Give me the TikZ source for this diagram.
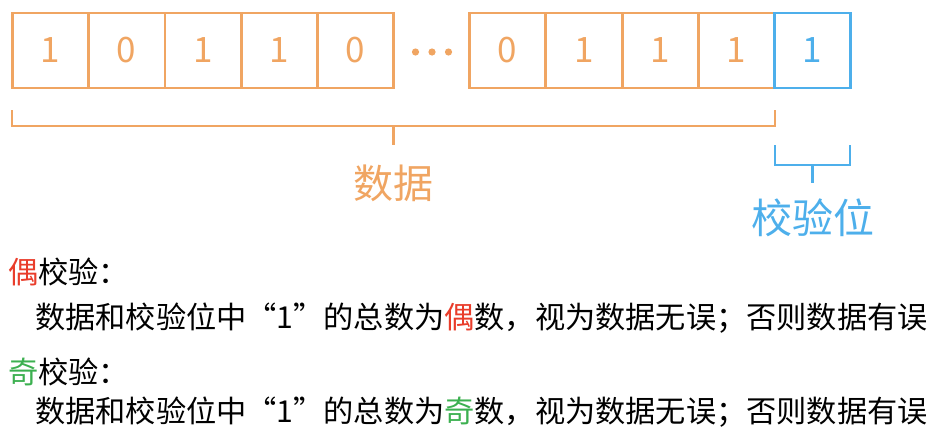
\documentclass[tikz,border=0pt]{standalone}
\usepackage{fontspec}
\setmainfont{Noto Sans CJK SC}
\definecolor{org}{RGB}{240,165,98}
\definecolor{blu}{RGB}{77,175,235}
\definecolor{redc}{RGB}{233,61,43}
\definecolor{grn}{RGB}{60,176,80}
\begin{document}
\begin{tikzpicture}[x=1pt,y=-1pt,
  bit/.style={draw=org,line width=2.4pt,minimum width=76pt,minimum height=74.5pt,inner sep=0pt,
    text=org,font=\fontsize{35}{35}\selectfont},
  pbit/.style={bit,draw=blu,text=blu},
  brace/.style={line width=2.2pt,line join=miter},
  lbl/.style={inner sep=0pt,font=\fontsize{40}{40}\selectfont},
  txt/.style={inner sep=0pt,anchor=west,font=\fontsize{30.2}{30.2}\selectfont}]
\useasboundingbox (0,0) rectangle (942,442);
\node[bit] (b1) at (50.3,50.5) {1};
\node[bit] (b2) at (126.7,50.5) {0};
\node[bit] (b3) at (203,50.5) {1};
\node[bit] (b4) at (279.3,50.5) {1};
\node[bit] (b5) at (355.3,50.5) {0};
\node[bit] (b6) at (507.5,50.5) {0};
\node[bit] (b7) at (584,50.5) {1};
\node[bit] (b8) at (660.3,50.5) {1};
\node[bit] (b9) at (736.3,50.5) {1};
\node[pbit] (p) at (812.6,50.5) {1};
\foreach \x in {415.5,432,448.5} \fill[org] (\x,52) circle (3.6pt);
% data brace
\coordinate (dl) at (12,110);
\coordinate (dr) at (775,110);
\coordinate (dm) at (393.5,126);
\coordinate (dt) at (393.5,145);
\draw[org,brace] (dl) -- (12,126) -- (775,126) -- (dr);
\draw[org,brace] (dm) -- (dt);
\node[lbl,text=org] (data) at (393.5,183) {数据};
% parity brace
\coordinate (pl) at (775,145);
\coordinate (pr) at (850,145);
\coordinate (pm) at (812.5,165);
\coordinate (pt) at (812.5,183);
\draw[blu,brace] (pl) -- (775,165) -- (850,165) -- (pr);
\draw[blu,brace] (pm) -- (pt);
\node[lbl,text=blu,font=\fontsize{41}{41}\selectfont] (par) at (812.5,218) {校验位};
% texts
\node[txt] (t1) at (8,272) {\textcolor{redc}{偶}校验：};
\node[txt] (t2) at (35,318) {数据和校验位中“1”的总数为\textcolor{redc}{偶}数，视为数据无误；否则数据有误};
\node[txt] (t3) at (8,372) {\textcolor{grn}{奇}校验：};
\node[txt] (t4) at (35,412) {数据和校验位中“1”的总数为\textcolor{grn}{奇}数，视为数据无误；否则数据有误};
\end{tikzpicture}
\end{document}
